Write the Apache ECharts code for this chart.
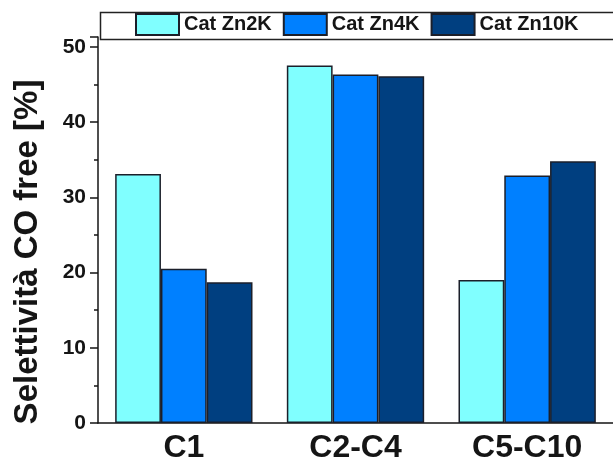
<!DOCTYPE html>
<html>
<head>
<meta charset="utf-8">
<script src="https://cdn.jsdelivr.net/npm/echarts@6/dist/echarts.min.js"></script>
<style>
  html, body { margin: 0; padding: 0; background: #fff; }
  #chart { width: 613px; height: 464px; }
</style>
</head>
<body>
<div id="chart"></div>
<script>
// Product fractions (carbon-number ranges)
const categories = ['C1', 'C2-C4', 'C5-C10'];

// CO-free selectivity [%] for each catalyst
const catZn2K = [33.1, 47.5, 19.0];
const catZn4K = [20.5, 46.3, 32.9];
const catZn10K = [18.7, 46.1, 34.8];

const seriesNames = ['Cat Zn2K', 'Cat Zn4K', 'Cat Zn10K'];
const yTicks = [0, 10, 20, 30, 40, 50];

const FONT = '"Liberation Sans", Arial, Helvetica, sans-serif';
const INK = '#151515';
const colors = ['#80FFFF', '#0080FF', '#003F80'];

const chart = echarts.init(document.getElementById('chart'), null, { renderer: 'canvas' });

function barSeries(name, data, color) {
  return {
    name: name,
    type: 'bar',
    data: data,
    barGap: '0%',
    barCategoryGap: '20%',
    itemStyle: { color: color, borderColor: '#1b1f2a', borderWidth: 1.5 },
    emphasis: { disabled: true }
  };
}

chart.setOption({
  animation: false,
  backgroundColor: '#ffffff',
  grid: { left: 98, top: 37, width: 522, bottom: 41, containLabel: false },
  legend: {
    data: seriesNames,
    left: 135,
    top: 13,
    itemWidth: 43,
    itemHeight: 21,
    itemGap: 11,
    icon: 'rect',
    padding: 0,
    textStyle: { fontFamily: FONT, fontWeight: 'bold', fontSize: 20, color: INK }
  },
  graphic: [{
    type: 'rect',
    left: 98,
    top: 10,
    shape: { width: 540, height: 27 },
    style: { fill: 'none', stroke: '#222', lineWidth: 1.5 },
    z: 0
  }],
  xAxis: {
    type: 'category',
    data: categories,
    axisLine: { lineStyle: { color: INK, width: 1.5 } },
    axisTick: { alignWithLabel: true, length: 7, lineStyle: { color: INK, width: 1.5 } },
    axisLabel: { fontFamily: FONT, fontWeight: 'bold', fontSize: 32, color: INK, margin: 9 }
  },
  yAxis: {
    type: 'value',
    min: yTicks[0],
    max: 51.3,
    interval: 10,
    name: 'Selettività CO free [%]',
    nameLocation: 'middle',
    nameGap: 54,
    nameTextStyle: {
      fontFamily: FONT, fontWeight: 'bold', fontSize: 33, color: INK,
      padding: [0, 44, 0, 0]
    },
    axisLine: { show: true, lineStyle: { color: INK, width: 1.5 } },
    axisTick: { show: true, length: 8, lineStyle: { color: INK, width: 1.5 } },
    minorTick: { show: true, splitNumber: 2, length: 4, lineStyle: { color: INK, width: 1.5 } },
    splitLine: { show: false },
    axisLabel: {
      fontFamily: FONT, fontWeight: 'bold', fontSize: 21, color: INK, margin: 12,
      showMaxLabel: false
    }
  },
  series: [
    barSeries(seriesNames[0], catZn2K, colors[0]),
    barSeries(seriesNames[1], catZn4K, colors[1]),
    barSeries(seriesNames[2], catZn10K, colors[2])
  ]
});
</script>
</body>
</html>
